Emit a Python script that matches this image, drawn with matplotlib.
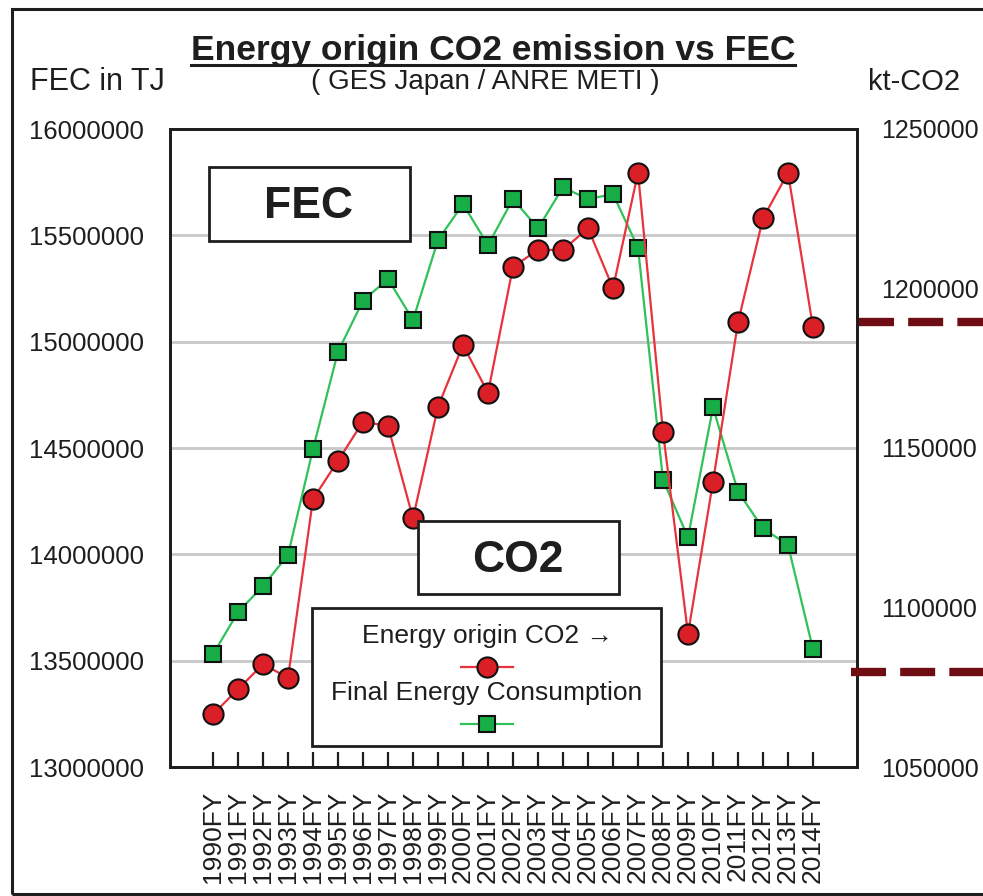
import matplotlib
matplotlib.use('Agg')
import matplotlib.pyplot as plt
from matplotlib.patches import Rectangle
from matplotlib.lines import Line2D
import matplotlib.transforms as mtransforms

plt.rcParams['font.family'] = ['Liberation Sans', 'DejaVu Sans']

# ---------------- data ----------------
years = ["1990FY", "1991FY", "1992FY", "1993FY", "1994FY", "1995FY", "1996FY",
         "1997FY", "1998FY", "1999FY", "2000FY", "2001FY", "2002FY", "2003FY",
         "2004FY", "2005FY", "2006FY", "2007FY", "2008FY", "2009FY", "2010FY",
         "2011FY", "2012FY", "2013FY", "2014FY"]

fec = [13530000, 13728000, 13851000, 13997000, 14495000, 14953000, 15193000,
       15295000, 15102000, 15478000, 15647000, 15454000, 15671000, 15533000,
       15726000, 15670000, 15694000, 15442000, 14350000, 14080000, 14691000,
       14295000, 14122000, 14044000, 13553000]

co2 = [1066500, 1074400, 1082200, 1078000, 1134000, 1146000, 1158250,
       1156900, 1128000, 1162950, 1182300, 1167300, 1206800, 1212100,
       1212100, 1218900, 1200100, 1236300, 1155100, 1091700, 1139400,
       1189400, 1222000, 1236300, 1187800]

left_ticks = [13000000, 13500000, 14000000, 14500000, 15000000, 15500000, 16000000]
right_ticks = [1050000, 1100000, 1150000, 1200000, 1250000]
ref_levels = [1189500, 1079800]

title = "Energy origin CO2 emission vs FEC"
subtitle = "( GES Japan / ANRE METI )"
left_unit = "FEC in TJ"
right_unit = "kt-CO2"
co2_label = "Energy origin CO2 \u2192"
fec_label = "Final Energy Consumption"

# ---------------- styles ----------------
RED_LINE = '#E8323C'
RED_FILL = '#DA1F26'
GREEN_LINE = '#2FC25A'
GREEN_FILL = '#17AD47'
DARK = '#1E1E1E'
REF_COLOR = '#6E0E14'

W, H = 983, 896
fig = plt.figure(figsize=(W / 100, H / 100), dpi=100)

ax = fig.add_axes([170 / W, 1 - 767 / H, 687 / W, 638 / H])
ax2 = ax.twinx()

x = list(range(len(years)))

ax.plot(x, fec, color=GREEN_LINE, lw=1.6, marker='s', ms=11.5,
        mfc=GREEN_FILL, mec='#111111', mew=1.5, zorder=3)
ax2.plot(x, co2, color=RED_LINE, lw=1.6, marker='o', ms=14.5,
         mfc=RED_FILL, mec='#111111', mew=1.5, zorder=3)

ax.set_xlim(-1.72, 25.76)
ax.set_ylim(13000000, 16000000)
ax2.set_ylim(1050000, 1250000)

ax.set_yticks(left_ticks)
ax.set_yticklabels([str(v) for v in left_ticks])
ax2.set_yticks(right_ticks)
ax2.set_yticklabels([str(v) for v in right_ticks])
ax.set_xticks(x)
ax.set_xticklabels(years, rotation=90)

ax.grid(axis='y', color='#C8C8C8', lw=2.0)
ax.set_axisbelow(True)

ax.tick_params(axis='y', length=0, pad=19, labelsize=18.5, colors=DARK)
ax2.tick_params(axis='y', length=0, pad=17.5, labelsize=18, colors=DARK)
ax.tick_params(axis='x', direction='in', length=11, width=1.6, pad=17,
               labelsize=19, colors=DARK)

for a in (ax, ax2):
    for s in a.spines.values():
        s.set_linewidth(2.0)
        s.set_color(DARK)

# text boxes "FEC" and "CO2"
for (x0, y0, w, h, label, tx, ty) in [
        (0.0568, 0.8245, 0.2925, 0.1159, "FEC", 0.2023, 0.879),
        (0.3610, 0.2712, 0.2926, 0.1144, "CO2", 0.5066, 0.323)]:
    ax2.add_patch(Rectangle((x0, y0), w, h, transform=ax2.transAxes,
                            facecolor='white', edgecolor=DARK, lw=2.0, zorder=5))
    ax2.text(tx, ty, label, transform=ax2.transAxes, ha='center', va='center',
             fontsize=32, fontweight='bold', color=DARK, zorder=6)

# legend box
ax2.add_patch(Rectangle((0.2067, 0.0329), 0.5080, 0.2163, transform=ax2.transAxes,
                        facecolor='white', edgecolor=DARK, lw=2.0, zorder=5))
ax2.text(0.4614, 0.2053, co2_label, transform=ax2.transAxes, ha='center',
         va='center', fontsize=19, color=DARK, zorder=6)
ax2.text(0.4614, 0.1160, fec_label, transform=ax2.transAxes, ha='center',
         va='center', fontsize=19, color=DARK, zorder=6)
ax2.add_line(Line2D([0.4235, 0.4993], [0.1567, 0.1567], transform=ax2.transAxes,
                    color=RED_LINE, lw=1.6, zorder=6))
ax2.add_line(Line2D([0.4614], [0.1567], transform=ax2.transAxes, marker='o',
                    ms=14.5, mfc=RED_FILL, mec='#111111', mew=1.5, zorder=7))
ax2.add_line(Line2D([0.4235, 0.4993], [0.0674, 0.0674], transform=ax2.transAxes,
                    color=GREEN_LINE, lw=1.6, zorder=6))
ax2.add_line(Line2D([0.4614], [0.0674], transform=ax2.transAxes, marker='s',
                    ms=11.5, mfc=GREEN_FILL, mec='#111111', mew=1.5, zorder=7))

# dashed reference lines to the right of the plot
trans = mtransforms.blended_transform_factory(ax2.transAxes, ax2.transData)
for lvl, xs in zip(ref_levels, [1.003, 0.991]):
    ax2.plot([xs, 1.25], [lvl, lvl], transform=trans, color=REF_COLOR, lw=6,
             dashes=(4.2, 1.7), solid_capstyle='butt', dash_capstyle='butt',
             clip_on=False, zorder=8)

# titles
t = fig.text(493 / W, 1 - 60 / H, title, ha='center', va='baseline',
             fontsize=25.5, fontweight='bold', color=DARK)
fig.text(485 / W, 1 - 89 / H, subtitle, ha='center', va='baseline',
         fontsize=20, color=DARK)
fig.text(30 / W, 1 - 90 / H, left_unit, ha='left', va='baseline',
         fontsize=22, color=DARK)
fig.text(868 / W, 1 - 90 / H, right_unit, ha='left', va='baseline',
         fontsize=21, color=DARK)

fig.canvas.draw()
bb = t.get_window_extent()
uy = 1 - 65 / H
fig.add_artist(Line2D([bb.x0 / W, bb.x1 / W], [uy, uy], transform=fig.transFigure,
                      color=DARK, lw=2.2))

# outer frame
fig.add_artist(Rectangle((12 / W, 1 - 894 / H), 1.2, (894 - 9) / H,
                         transform=fig.transFigure, fill=False,
                         edgecolor=DARK, lw=2.2, clip_on=False))

fig.savefig('out.png', dpi=100)
